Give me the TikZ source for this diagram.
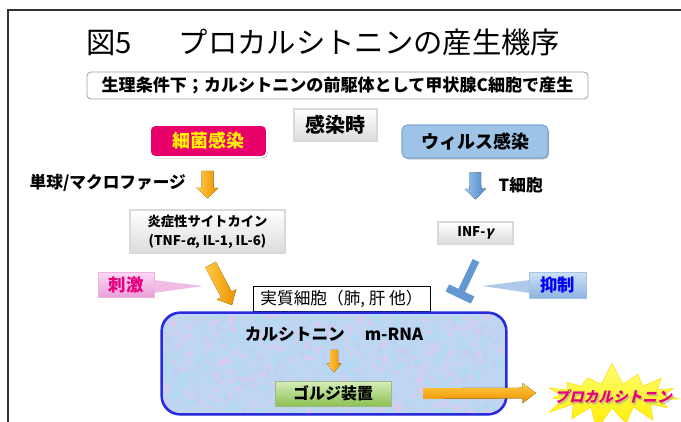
\documentclass[tikz,border=0pt]{standalone}
\usepackage{fontspec}
\setmainfont{Noto Sans CJK JP}
\newfontfamily\jpsl[FakeSlant=0.25]{Noto Sans CJK JP}
\usetikzlibrary{shapes.symbols,shadows,calc}
\definecolor{pinkbox}{HTML}{E8006B}
\definecolor{bluebox}{HTML}{9DC3E6}
\definecolor{blueborder}{HTML}{7EA6D0}
\definecolor{orangeA}{HTML}{FFCB45}
\definecolor{orangeB}{HTML}{EE9000}
\definecolor{blueA}{HTML}{9CC4EC}
\definecolor{blueB}{HTML}{4A86C8}
\definecolor{cellfill}{HTML}{BED6F2}
\definecolor{cellborder}{HTML}{2A2AE0}
\definecolor{texpink}{HTML}{EBC6EC}
\definecolor{texcyan}{HTML}{ABDDF4}
\definecolor{texlav}{HTML}{C8C6F2}
\definecolor{greenA}{HTML}{D6EEBB}
\definecolor{greenB}{HTML}{8CC152}
\definecolor{pinktext}{HTML}{E6007E}
\definecolor{cpinkA}{HTML}{FCD8F5}
\definecolor{cpinkB}{HTML}{E9A0DA}
\definecolor{cblueA}{HTML}{CDE2F5}
\definecolor{cblueB}{HTML}{8DB4E0}
\newcommand\blockarr[6]{%
  \path (#1) coordinate (bxa) (#2) coordinate (bxb);
  \coordinate (bxn) at ($(bxb)!#5!(bxa)$);
  \fill[#6] ($(bxa)!#3!90:(bxb)$) -- ($(bxn)!#3!90:(bxb)$) -- ($(bxn)!#4!90:(bxb)$)
    -- (bxb) -- ($(bxn)!#4!-90:(bxb)$) -- ($(bxn)!#3!-90:(bxb)$) -- ($(bxa)!#3!-90:(bxb)$) -- cycle;
}
\tikzset{
  wh/.style 2 args={minimum width=#1*0.75pt, minimum height=#2*0.75pt, inner sep=0pt},
  myshadow/.style={drop shadow={opacity=0.3,shadow xshift=0.8pt,shadow yshift=-1pt,fill=black}},
  graybox/.style={top color=white, bottom color=gray!28, draw=gray!30, line width=0.8pt, myshadow},
  subbox/.style={draw=gray!75, fill=white, rounded corners=3pt, line width=0.6pt},
  calloutpink/.style={top color=cpinkA, bottom color=cpinkB, draw=cpinkB!80!white, myshadow},
  calloutblue/.style={top color=cblueA, bottom color=cblueB, draw=cblueB!80!white, myshadow},
  greenbox/.style={top color=greenA, bottom color=greenB, draw=greenB!70!black!60!white, line width=0.6pt, myshadow},
  orangearrow/.style={left color=orangeA, right color=orangeB},
  bluearrow/.style={left color=blueA, right color=blueB},
  fbold/.style={font=\bfseries\fontsize{#1}{#1}\selectfont},
}
\begin{document}
\begin{tikzpicture}[x=0.75pt,y=-0.75pt]
\useasboundingbox (0,0) rectangle (681,421);
\begin{scope}
\clip (0,0) rectangle (681,421);
\draw[line width=1.5pt,black!80] (8,430) -- (8,10) -- (690,10);

% title
\node[anchor=base west, font=\fontsize{22}{26}\selectfont, inner sep=0pt] (title) at (86,53) {図5\hspace{1.6em}プロカルシトニンの産生機序};

% subtitle
\node[subbox, wh={501}{27}, fbold=12.8] (sub) at (337.5,85.5) {生理条件下；カルシトニンの前駆体として甲状腺C細胞で産生};

% infection
\node[graybox, wh={83}{32}, fbold=15] (kansen) at (335.5,125) {感染時};
\node[fill=pinkbox, draw=white, line width=1.2pt, rounded corners=4pt, myshadow, wh={117}{32}, text=yellow, fbold=13.5] (bac) at (208.5,141) {細菌感染};
\node[fill=bluebox, draw=blueborder, line width=0.8pt, rounded corners=4pt, myshadow, wh={146}{33}, fbold=13.5] (vir) at (475,141.5) {ウィルス感染};

% left branch
\node[anchor=west, fbold=12.5] (mono) at (25,183) {単球/マクロファージ};
\node[graybox, wh={155}{43}, align=center, font=\bfseries\fontsize{10}{14}\selectfont] (cyto) at (207.5,231.5) {炎症性サイトカイン\\(TNF-{\jpsl α}, IL-1, IL-6)};
\blockarr{$(bac.south)+(-1,13)$}{$(cyto.north)+(0,-11)$}{4.5pt}{8.3pt}{8pt}{orangearrow}
\coordinate (stimtip) at (232,305);
\blockarr{$(cyto.south)+(3,11)$}{stimtip}{4.5pt}{8.3pt}{9pt}{orangearrow}

% right branch
\node[anchor=west, fbold=12.5] (tcell) at (494,185) {T細胞};
\node[graybox, wh={75}{22}, font=\bfseries\fontsize{10}{12}\selectfont] (inf) at (475.5,233) {INF-{\jpsl γ}};
\blockarr{$(vir.south)+(0,14)$}{$(inf.north)+(0,-22)$}{4.5pt}{8pt}{8pt}{bluearrow}
\coordinate (tbs) at ($(inf.south)+(0.5,16)$);
\coordinate (tbe) at (460,294);
\draw[line width=5.5pt, color=blueB!85!white] (tbs) -- (tbe);
\draw[line width=6pt, color=blueB!85!white] ($(tbe)!10.5pt!90:(tbs)$) -- ($(tbe)!10.5pt!-90:(tbs)$);

% callouts
\coordinate (sgtip) at (203,286);
\fill[cpinkB!70!white] (153,280) -- (sgtip) -- (153,293) -- cycle;
\node[calloutpink, wh={56}{25}, text=pinktext, fbold=13] (shigeki) at (126,284.5) {刺激};
\coordinate (yktip) at (482,286);
\fill[cblueB!70!white] (530,280) -- (yktip) -- (530,293) -- cycle;
\node[calloutblue, wh={57}{26}, text=blue, fbold=13] (yokusei) at (557.5,285) {抑制};

% cell
\node[draw=black, fill=white, line width=0.6pt, wh={177}{25}, font=\fontsize{12.5}{14}\selectfont] (cell) at (341.5,298.5) {実質細胞（肺, 肝 他）};
\node[draw=cellborder, line width=1.2pt, fill=cellfill, rounded corners=14pt, myshadow, wh={344}{101}] (cellbox) at (334,363.5) {};
\begin{scope}
\clip[rounded corners=13pt] (163,314) rectangle (505,413);
\pgfmathsetmacro\dummy{0}
\pgfmathsetseed{11}
\foreach \i in {1,...,300} {\fill[texcyan, opacity=0.55] ({163+rnd*342},{314+rnd*99}) circle (3);}
\foreach \i in {1,...,220} {\fill[texpink, opacity=0.45] ({163+rnd*342},{314+rnd*99}) circle (3);}
\foreach \i in {1,...,120} {\fill[texlav, opacity=0.4] ({163+rnd*342},{314+rnd*99}) circle (2.5);}
\end{scope}
\draw[cellborder, line width=1.2pt, rounded corners=14pt] (cellbox.north west) rectangle (cellbox.south east);
\node[fbold=12.5] (mrna) at (334,334) {カルシトニン\hspace{1.2em}m-RNA};
\node[greenbox, wh={116}{25}, fbold=12] (golgi) at (333,393.5) {ゴルジ装置};
\blockarr{$(mrna.south)+(0,4)$}{$(golgi.north)+(1,-8)$}{3pt}{5.5pt}{7pt}{orangearrow}

% procalcitonin
\node[starburst, starburst points=15, starburst point height=17pt, random starburst=7, top color=yellow!55!white, bottom color=yellow!85!orange, draw=yellow!80!orange, minimum width=112pt, minimum height=52pt, inner sep=0pt] (star) at (612,396) {};
\node[text=black!40, opacity=0.5, font=\jpsl\bfseries\fontsize{11}{12}\selectfont] (pctshadow) at (614.5,398.5) {プロカルシトニン};
\node[text=pinktext, font=\jpsl\bfseries\fontsize{11}{12}\selectfont] (pct) at (613,397) {プロカルシトニン};
\coordinate (pctarr) at (536,393);
\blockarr{$(golgi.east)+(32,0)$}{pctarr}{4pt}{7.5pt}{10pt}{top color=orangeA, bottom color=orangeB}
\end{scope}
\end{tikzpicture}
\end{document}
